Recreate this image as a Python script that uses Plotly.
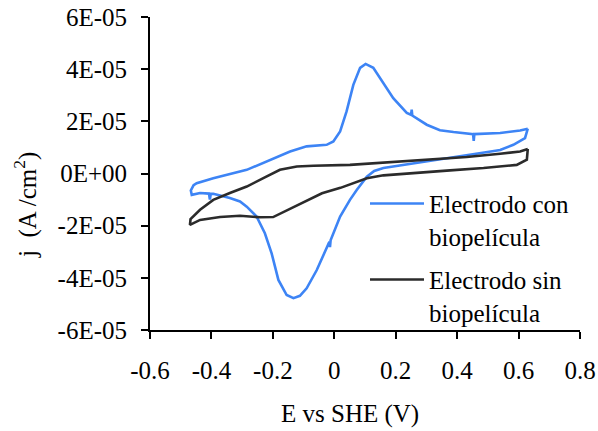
import plotly.graph_objects as go

# Cyclic voltammograms: potential E (V vs SHE) and current density j (A/cm2)
E_con = [0.630, 0.621, 0.583, 0.540, 0.520, 0.431, 0.380, 0.320, 0.247, 0.214, 0.160,
         0.130, 0.106, 0.073, 0.051, 0.019, -0.010, -0.012, -0.014, -0.016, -0.057,
         -0.090, -0.112, -0.133, -0.155, -0.182, -0.204, -0.226, -0.253, -0.285, -0.307,
         -0.340, -0.394, -0.402, -0.405, -0.408, -0.437, -0.464, -0.467, -0.458, -0.448,
         -0.394, -0.285, -0.209, -0.144, -0.090, -0.025, -0.003, 0.019, 0.040, 0.062,
         0.084, 0.102, 0.127, 0.160, 0.192, 0.236, 0.250, 0.252, 0.254, 0.301, 0.344,
         0.388, 0.452, 0.454, 0.456, 0.540, 0.605, 0.630]
j_con = [1.72e-5, 1.36e-5, 1.10e-5, 0.90e-5, 0.86e-5, 0.70e-5, 0.60e-5, 0.50e-5, 0.36e-5,
         0.30e-5, 0.21e-5, 0.10e-5, -0.12e-5, -0.63e-5, -1.01e-5, -1.65e-5, -2.48e-5,
         -2.56e-5, -2.82e-5, -2.62e-5, -3.70e-5, -4.40e-5, -4.69e-5, -4.78e-5, -4.66e-5,
         -4.08e-5, -3.06e-5, -2.29e-5, -1.65e-5, -1.27e-5, -1.07e-5, -0.94e-5, -0.78e-5,
         -0.77e-5, -1.00e-5, -0.77e-5, -0.75e-5, -0.82e-5, -0.65e-5, -0.45e-5, -0.37e-5,
         -0.18e-5, 0.14e-5, 0.53e-5, 0.84e-5, 1.04e-5, 1.10e-5, 1.23e-5, 1.61e-5, 2.38e-5,
         3.40e-5, 4.05e-5, 4.20e-5, 4.05e-5, 3.47e-5, 2.89e-5, 2.32e-5, 2.25e-5, 2.45e-5,
         2.22e-5, 1.87e-5, 1.66e-5, 1.59e-5, 1.51e-5, 1.25e-5, 1.51e-5, 1.55e-5, 1.65e-5,
         1.72e-5]

E_sin = [0.630, 0.627, 0.594, 0.486, 0.377, 0.268, 0.160, 0.106, 0.060, 0.020, -0.040,
         -0.090, -0.144, -0.199, -0.242, -0.307, -0.372, -0.437, -0.470, -0.468, -0.437,
         -0.394, -0.340, -0.285, -0.231, -0.177, -0.122, -0.068, 0.051, 0.214, 0.322,
         0.431, 0.540, 0.605, 0.630]
j_sin = [0.94e-5, 0.53e-5, 0.33e-5, 0.21e-5, 0.12e-5, 0.02e-5, -0.07e-5, -0.18e-5,
         -0.37e-5, -0.55e-5, -0.76e-5, -1.05e-5, -1.35e-5, -1.67e-5, -1.68e-5, -1.62e-5,
         -1.67e-5, -1.78e-5, -1.97e-5, -1.75e-5, -1.39e-5, -1.01e-5, -0.75e-5, -0.50e-5,
         -0.18e-5, 0.14e-5, 0.27e-5, 0.30e-5, 0.33e-5, 0.46e-5, 0.53e-5, 0.63e-5, 0.76e-5,
         0.84e-5, 0.94e-5]

x_ticks = [-0.6, -0.4, -0.2, 0.0, 0.2, 0.4, 0.6, 0.8]
x_labels = ["-0.6", "-0.4", "-0.2", "0", "0.2", "0.4", "0.6", "0.8"]
y_ticks = [-6e-5, -4e-5, -2e-5, 0.0, 2e-5, 4e-5, 6e-5]
y_labels = ["-6E-05", "-4E-05", "-2E-05", "0E+00", "2E-05", "4E-05", "6E-05"]

FS = 25


def serif(size=FS):
    return dict(family="Liberation Serif", size=size, color="black")


fig = go.Figure()
fig.add_trace(go.Scatter(x=E_con, y=j_con, mode="lines", legendgroup="con",
                         name="Electrodo con<br>biopelícula",
                         line=dict(color="#3d84f5", width=2.6)))
fig.add_trace(go.Scatter(x=E_sin, y=j_sin, mode="lines", legendgroup="sin",
                         name="Electrodo sin<br>biopelícula",
                         line=dict(color="#2b2b2b", width=2.6)))

axis_common = dict(showgrid=False, zeroline=False, showline=True, linecolor="black",
                   linewidth=2, ticks="outside", ticklen=7, tickwidth=2, automargin=False,
                   tickcolor="black", tickfont=serif())

fig.update_layout(
    width=598, height=431,
    margin=dict(l=150, r=18, t=17, b=101),
    paper_bgcolor="white", plot_bgcolor="white",
    showlegend=True,
    legend=dict(x=0.5, y=0.477, xanchor="left", yanchor="top",
                bgcolor="rgba(0,0,0,0)", valign="top", itemwidth=54,
                tracegroupgap=8, font=serif()),
    xaxis=dict(range=[-0.6, 0.8], tickvals=x_ticks, ticktext=x_labels,
               ticklabelstandoff=10, **axis_common),
    yaxis=dict(range=[-6e-5, 6e-5], tickvals=y_ticks, ticktext=y_labels,
               ticklabelstandoff=9, **axis_common),
)
fig.add_annotation(text="E vs SHE (V)", xref="paper", yref="paper", x=0.465, y=-0.268,
                   xanchor="center", yanchor="middle", showarrow=False, font=serif())
fig.add_annotation(text="j  (A /cm<sup>2</sup>)", xref="paper", yref="paper", x=-0.288, y=0.40,
                   xanchor="center", yanchor="middle", showarrow=False, textangle=-90,
                   font=serif())

fig.write_html("out.html")
